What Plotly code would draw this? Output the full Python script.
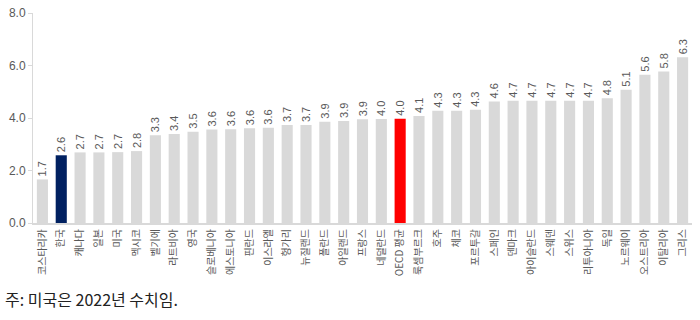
import plotly.graph_objects as go

countries = ["코스타리카", "한국", "캐나다", "일본", "미국", "멕시코", "벨기에", "라트비아", "영국",
             "슬로베니아", "에스토니아", "핀란드", "이스라엘", "헝가리", "뉴질랜드", "폴란드", "아일랜드",
             "프랑스", "네덜란드", "OECD 평균", "룩셈부르크", "호주", "체코", "포르투갈", "스페인",
             "덴마크", "아이슬란드", "스웨덴", "스위스", "리투아니아", "독일", "노르웨이", "오스트리아",
             "이탈리아", "그리스"]
values = [1.66, 2.58, 2.69, 2.69, 2.70, 2.74, 3.34, 3.39, 3.48, 3.56, 3.57, 3.61, 3.63, 3.73, 3.73,
          3.86, 3.89, 3.95, 3.96, 3.97, 4.08, 4.28, 4.28, 4.31, 4.63, 4.66, 4.66, 4.66, 4.66, 4.66,
          4.75, 5.08, 5.65, 5.77, 6.31]
labels = ["1.7", "2.6", "2.7", "2.7", "2.7", "2.8", "3.3", "3.4", "3.5", "3.6", "3.6", "3.6", "3.6",
          "3.7", "3.7", "3.9", "3.9", "3.9", "4.0", "4.0", "4.1", "4.3", "4.3", "4.3", "4.6", "4.7",
          "4.7", "4.7", "4.7", "4.7", "4.8", "5.1", "5.6", "5.8", "6.3"]
y_ticks = [0, 2, 4, 6, 8]
note = "주: 미국은 2022년 수치임."

colors = []
for c in countries:
    if c == "한국":
        colors.append("#002060")
    elif c == "OECD 평균":
        colors.append("#ff0000")
    else:
        colors.append("#d9d9d9")

FONT = "Arial, 'Liberation Sans', 'Noto Sans CJK KR', sans-serif"

fig = go.Figure(go.Bar(
    x=countries, y=values, marker=dict(color=colors, line=dict(width=0)),
    text=labels, textposition="outside", textangle=-90,
    textfont=dict(size=11, color="#595959", family=FONT),
    cliponaxis=False,
))

fig.update_layout(
    width=700, height=320,
    margin=dict(l=33, r=8, t=6, b=97),
    paper_bgcolor="white", plot_bgcolor="white",
    bargap=0.41,
    showlegend=False,
    font=dict(family=FONT, color="#595959"),
    uniformtext=dict(minsize=11, mode="show"),
)
fig.update_xaxes(
    tickangle=-90, tickfont=dict(size=10, color="#595959", family="'Noto Sans CJK KR', sans-serif"),
    showline=True, linecolor="#d9d9d9", linewidth=2, ticks="", showgrid=False,
)
fig.update_yaxes(
    range=[0, 8.0001], tickvals=y_ticks, tickformat=".1f",
    tickfont=dict(size=12, color="#595959"), ticklabeloverflow="allow",
    showline=True, linecolor="#d9d9d9", linewidth=1, ticks="outside", ticklen=4,
    tickcolor="#d9d9d9", showgrid=False, zeroline=False,
)
fig.add_annotation(
    text=note, xref="paper", yref="paper", x=-0.046, y=-0.36,
    xanchor="left", yanchor="middle", showarrow=False,
    font=dict(size=16, color="#222222", family="'Noto Sans CJK KR', sans-serif"),
)
fig.write_html("out.html")
